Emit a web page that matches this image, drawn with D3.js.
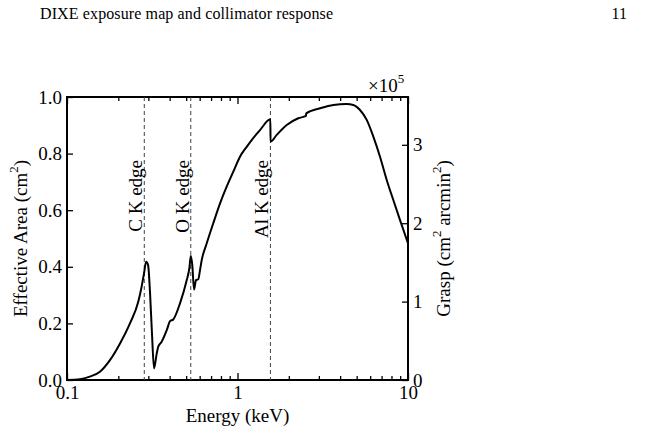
<!DOCTYPE html>
<meta charset="utf-8">
<script src="https://d3js.org/d3.v7.min.js"></script>
<style>
  body { margin: 0; background: #fff; }
  svg text { font-family: "Liberation Serif", "Times New Roman", serif !important; fill: #000; }
</style>
<div id="my_dataviz"></div>
<script>
  // effective area curve (keV, cm^2)
  const energy = [0.1, 0.119, 0.136, 0.156, 0.179, 0.205, 0.234, 0.262, 0.274, 0.283, 0.291, 0.299,
    0.307, 0.315, 0.324, 0.336, 0.343, 0.359, 0.385, 0.402, 0.420, 0.460, 0.504, 0.522, 0.532,
    0.543, 0.556, 0.571, 0.589, 0.603, 0.617, 0.660, 0.721, 0.790, 0.864, 0.945, 1.034, 1.132,
    1.211, 1.355, 1.559, 1.562, 1.698, 1.944, 2.273, 2.52, 2.53, 3.047, 3.648, 4.371, 4.778,
    5.231, 5.726, 6.261, 6.853, 7.501, 8.2, 8.98, 10];
  const area = [0.0, 0.0025, 0.012, 0.029, 0.071, 0.13, 0.20, 0.277, 0.33, 0.377, 0.418, 0.406,
    0.306, 0.165, 0.041, 0.094, 0.118, 0.135, 0.177, 0.208, 0.214, 0.271, 0.353, 0.395, 0.438,
    0.406, 0.32, 0.353, 0.356, 0.389, 0.424, 0.483, 0.554, 0.624, 0.683, 0.736, 0.789, 0.824,
    0.848, 0.883, 0.921, 0.842, 0.866, 0.901, 0.925, 0.933, 0.942, 0.96, 0.972, 0.975, 0.972,
    0.954, 0.919, 0.86, 0.789, 0.707, 0.636, 0.565, 0.483];

  // absorption edges
  const edgeEnergy = [0.284, 0.532, 1.56];
  const edgeLabels = ["C K edge", "O K edge", "Al K edge"];

  // axis ticks
  const areaTicks = [0, 0.2, 0.4, 0.6, 0.8, 1.0];
  const graspTicks = [0, 1, 2, 3];
  const graspMax = 3.61; // in units of 1e5, matches top of the area axis
  const energyMajor = [0.1, 1, 10];
  const energyMinor = [0.2, 0.3, 0.4, 0.5, 0.6, 0.7, 0.8, 0.9, 2, 3, 4, 5, 6, 7, 8, 9];

  const margin = { top: 97, right: 239, bottom: 53, left: 67 },
    width = 647 - margin.left - margin.right,
    height = 433 - margin.top - margin.bottom;

  const root = d3.select("#my_dataviz")
    .append("svg")
    .attr("width", 647)
    .attr("height", 433);

  // page header
  root.append("text")
    .attr("x", 40).attr("y", 19)
    .attr("font-size", 16)
    .attr("textLength", 293)
    .text("DIXE exposure map and collimator response");
  root.append("text")
    .attr("x", 627).attr("y", 19)
    .attr("font-size", 16)
    .attr("text-anchor", "end")
    .text("11");

  const svg = root.append("g")
    .attr("transform", `translate(${margin.left},${margin.top})`);

  const x = d3.scaleLog().domain([0.1, 10]).range([0, width]);
  const y = d3.scaleLinear().domain([0, 1]).range([height, 0]);
  const y2 = d3.scaleLinear().domain([0, graspMax]).range([height, 0]);

  // bottom axis, ticks pointing inward
  const bottom = svg.append("g")
    .attr("transform", `translate(0,${height})`)
    .call(d3.axisBottom(x).tickValues(energyMajor).tickSize(-7)
      .tickFormat(d3.format("~g")));
  bottom.selectAll("text").attr("y", 19).attr("dy", 0);
  svg.append("g")
    .attr("transform", `translate(0,${height})`)
    .call(d3.axisBottom(x).tickValues(energyMinor).tickSize(-4).tickFormat(""));
  // top axis
  svg.append("g")
    .call(d3.axisTop(x).tickValues(energyMajor).tickSize(-7).tickFormat(""));
  svg.append("g")
    .call(d3.axisTop(x).tickValues(energyMinor).tickSize(-4).tickFormat(""));

  // left axis
  svg.append("g")
    .call(d3.axisLeft(y).tickValues(areaTicks).tickSize(-6).tickPadding(5)
      .tickFormat(d3.format(".1f")));
  // right axis (grasp)
  svg.append("g")
    .attr("transform", `translate(${width},0)`)
    .call(d3.axisRight(y2).tickValues(graspTicks).tickSize(-6).tickPadding(5)
      .tickFormat(d3.format("d")));

  svg.selectAll(".domain").remove();
  svg.selectAll(".tick line").attr("stroke", "#000").attr("stroke-width", 1.3);
  svg.selectAll(".tick text").attr("font-size", 19).attr("fill", "#000");

  // frame
  svg.append("rect")
    .attr("width", width).attr("height", height)
    .attr("fill", "none").attr("stroke", "#000").attr("stroke-width", 2);

  // edge markers
  svg.selectAll(".edge")
    .data(edgeEnergy)
    .join("line")
    .attr("class", "edge")
    .attr("x1", d => x(d)).attr("x2", d => x(d))
    .attr("y1", 0).attr("y2", height)
    .attr("stroke", "#444").attr("stroke-width", 1)
    .attr("stroke-dasharray", "4,3");

  svg.selectAll(".edge-label")
    .data(edgeEnergy)
    .join("text")
    .attr("class", "edge-label")
    .attr("transform", d => `translate(${x(d) - 2},63) rotate(-90)`)
    .attr("text-anchor", "end")
    .attr("font-size", 19)
    .text((d, i) => edgeLabels[i]);

  // curve
  const pts = energy.map((e, i) => [e, area[i]]);
  svg.append("path")
    .datum(pts)
    .attr("fill", "none")
    .attr("stroke", "#000")
    .attr("stroke-width", 2)
    .attr("stroke-linejoin", "round")
    .attr("d", d3.line()
      .curve(d3.curveMonotoneX)
      .x(d => x(d[0]))
      .y(d => y(d[1])));

  // axis titles
  svg.append("text")
    .attr("x", width / 2).attr("y", height + 42)
    .attr("text-anchor", "middle").attr("font-size", 19)
    .text("Energy (keV)");

  const yl = svg.append("text")
    .attr("transform", `translate(-40,${height / 2}) rotate(-90)`)
    .attr("text-anchor", "middle").attr("font-size", 19);
  yl.append("tspan").text("Effective Area (cm");
  yl.append("tspan").attr("font-size", 13).attr("dy", -9).text("2");
  yl.append("tspan").attr("dy", 9).text(")");

  const yr = svg.append("text")
    .attr("transform", `translate(${width + 42},${height / 2}) rotate(-90)`)
    .attr("text-anchor", "middle").attr("font-size", 19);
  yr.append("tspan").text("Grasp (cm");
  yr.append("tspan").attr("font-size", 13).attr("dy", -9).text("2");
  yr.append("tspan").attr("dy", 9).text(" arcmin");
  yr.append("tspan").attr("font-size", 13).attr("dy", -9).text("2");
  yr.append("tspan").attr("dy", 9).text(")");

  // multiplier
  const mult = svg.append("text")
    .attr("x", width - 40).attr("y", -5)
    .attr("font-size", 19);
  mult.append("tspan").text("\u00d710");
  mult.append("tspan").attr("font-size", 13).attr("dy", -9).text("5");
</script>
